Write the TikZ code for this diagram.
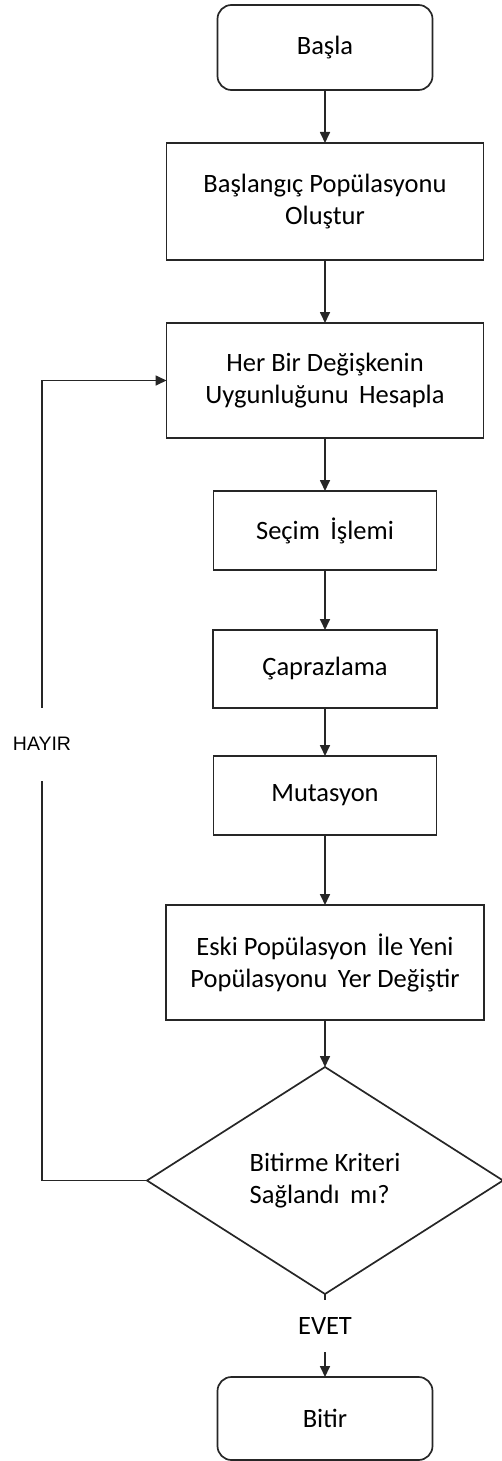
\documentclass[tikz,border=0pt]{standalone}
\usepackage{fontspec}
\setmainfont{Carlito}
\newfontfamily\tagfont{Liberation Sans}
\usetikzlibrary{shapes.geometric,arrows.meta}

\tikzset{
  base/.style={draw=black!85, line width=1.7pt, outer sep=0pt, inner sep=2pt,
    align=center, text=black, font=\fontsize{26.5}{32}\selectfont},
  term/.style={base, rounded corners=14pt},
  proc/.style={base},
  decide/.style={base, diamond, aspect=1.568, align=left},
  flow/.style={draw=black!85, line width=1.7pt, -{Triangle[length=11pt,width=10pt]}},
  tag/.style={fill=white, inner sep=0pt, text=black}
}

\begin{document}
\begin{tikzpicture}[x=1pt,y=-1pt]
\useasboundingbox (0,0) rectangle (501,1461);

% steps of the genetic algorithm
\node[term, minimum width=215pt, minimum height=85pt] (start) at (325,47.5) {Başla};
\node[proc, minimum width=317pt, minimum height=117pt] (init) at (325,201.5)
  {Başlangıç Popülasyonu\\Oluştur};
\node[proc, minimum width=317pt, minimum height=115pt] (fit) at (325,380.5)
  {Her Bir Değişkenin\\Uygunluğunu\, Hesapla};
\node[proc, minimum width=223pt, minimum height=79pt] (sel) at (325,530.5)
  {Seçim\, İşlemi};
\node[proc, minimum width=224pt, minimum height=78pt] (cross) at (325,669)
  {Çaprazlama};
\node[proc, minimum width=223pt, minimum height=79pt] (mut) at (325,795.5)
  {Mutasyon};
\node[proc, minimum width=318pt, minimum height=115pt] (repl) at (325,962.5)
  {Eski Popülasyon\, İle Yeni\\Popülasyonu\, Yer Değiştir};
\node[decide, minimum width=356pt, minimum height=227pt] (dec) at (325,1180.5)
  {Bitirme Kriteri\\Sağlandı\, mı?};
\node[term, minimum width=215pt, minimum height=83pt] (end) at (325,1418.5) {Bitir};

% main flow
\draw[flow] (start) -- (init);
\draw[flow] (init) -- (fit);
\draw[flow] (fit) -- (sel);
\draw[flow] (sel) -- (cross);
\draw[flow] (cross) -- (mut);
\draw[flow] (mut) -- (repl);
\draw[flow] (repl) -- (dec);
\draw[flow] (dec) -- (end);

% loop back when the stop criterion is not met
\coordinate (loopB) at (42,1180.5);
\coordinate (loopT) at (42,380.5);
\draw[flow] (dec.west) -- (loopB) -- (loopT) -- (fit.west);

% branch labels
\node[tag, minimum height=73pt, font=\tagfont\fontsize{19.5}{19.5}\selectfont] (no) at (42,744) {HAYIR};
\node[tag, minimum height=52pt, font=\fontsize{26.5}{26.5}\selectfont] (yes) at (325,1326) {EVET};
\end{tikzpicture}
\end{document}
